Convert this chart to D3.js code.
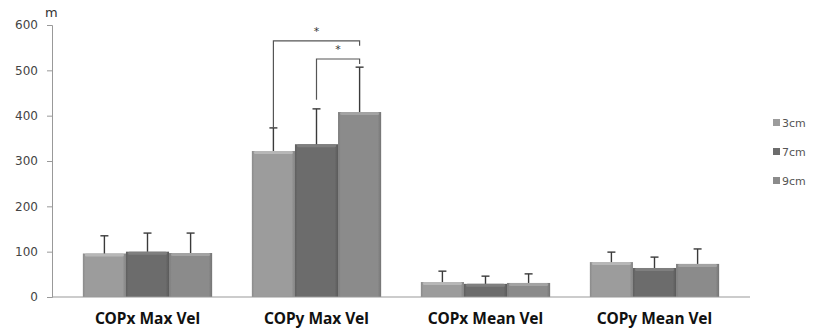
<!DOCTYPE html>
<html>
<head>
<meta charset="utf-8">
<script src="https://cdn.jsdelivr.net/npm/d3@7"></script>
<style>
  body { margin: 0; background: #fff; }
  svg { display: block; }
</style>
</head>
<body>
<div id="chart"></div>
<script>
const categories = ['COPx Max Vel', 'COPy Max Vel', 'COPx Mean Vel', 'COPy Mean Vel'];
const seriesNames = ['3cm', '7cm', '9cm'];
const mean3cm = [96, 322, 33, 77];
const mean7cm = [100, 337, 29, 64];
const mean9cm = [97, 408, 31, 73];
const sd3cm = [39, 51, 24, 22];
const sd7cm = [41, 78, 17, 24];
const sd9cm = [44, 99, 20, 33];
const yTicks = [0, 100, 200, 300, 400, 500, 600];
// significance brackets on COPy Max Vel
const brackets = [
  { cat: 'COPy Max Vel', from: 0, to: 2, level: 565, leftEnd: 373, label: '*' },
  { cat: 'COPy Max Vel', from: 1, to: 2, level: 525, leftEnd: 435, label: '*' },
];

const width = 814;
const height = 330;
const colors = ['#9c9c9c', '#6c6c6c', '#8b8b8b'];

const means = [mean3cm, mean7cm, mean9cm];
const sds = [sd3cm, sd7cm, sd9cm];

const svg = d3.select('#chart').append('svg')
  .attr('width', width)
  .attr('height', height);

// bevel-ish gradients
const defs = svg.append('defs');
colors.forEach((c, i) => {
  const g = defs.append('linearGradient')
    .attr('id', 'grad' + i)
    .attr('x1', '0').attr('x2', '1').attr('y1', '0').attr('y2', '0');
  g.append('stop').attr('offset', '0%').attr('stop-color', d3.color(c).darker(0.35));
  g.append('stop').attr('offset', '6%').attr('stop-color', c);
  g.append('stop').attr('offset', '92%').attr('stop-color', c);
  g.append('stop').attr('offset', '100%').attr('stop-color', d3.color(c).darker(0.5));
});

const y = d3.scaleLinear().domain([0, 600]).range([297, 25]);

const x0 = d3.scaleBand()
  .domain(categories)
  .range([63, 739])
  .paddingInner(0.235)
  .paddingOuter(0.1175);

const x1 = d3.scaleBand()
  .domain(seriesNames)
  .range([0, x0.bandwidth()]);

// Y axis
const yAxis = svg.append('g')
  .attr('transform', 'translate(52,0)')
  .call(d3.axisLeft(y).tickValues(yTicks).tickSize(5).tickPadding(9));
yAxis.select('.domain').attr('stroke', '#999');
yAxis.selectAll('.tick line').attr('stroke', '#999');
yAxis.selectAll('.tick text')
  .attr('fill', '#444')
  .style('font-family', 'DejaVu Sans')
  .style('font-size', '12px');

svg.append('text')
  .attr('x', 45)
  .attr('y', 17)
  .attr('fill', '#333')
  .style('font-family', 'DejaVu Sans')
  .style('font-size', '13px')
  .text('m');

// bars
const groups = svg.selectAll('.grp')
  .data(categories)
  .enter()
  .append('g')
  .attr('class', 'grp')
  .attr('transform', (d) => `translate(${x0(d)},0)`);

seriesNames.forEach((s, si) => {
  groups.append('rect')
    .attr('x', (d) => x1(s))
    .attr('y', (d, ci) => y(means[si][ci]))
    .attr('width', x1.bandwidth())
    .attr('height', (d, ci) => y(0) - y(means[si][ci]))
    .attr('fill', `url(#grad${si})`);
  // top highlight
  groups.append('rect')
    .attr('x', (d) => x1(s) + 2)
    .attr('y', (d, ci) => y(means[si][ci]))
    .attr('width', x1.bandwidth() - 4)
    .attr('height', 3)
    .attr('rx', 1.5)
    .attr('fill', d3.color(colors[si]).brighter(0.45));
  // error bars
  groups.append('line')
    .attr('x1', (d) => x1(s) + x1.bandwidth() / 2)
    .attr('x2', (d) => x1(s) + x1.bandwidth() / 2)
    .attr('y1', (d, ci) => y(means[si][ci]))
    .attr('y2', (d, ci) => y(means[si][ci] + sds[si][ci]))
    .attr('stroke', '#3a3a3a')
    .attr('stroke-width', 1.4);
  groups.append('line')
    .attr('x1', (d) => x1(s) + x1.bandwidth() / 2 - 4)
    .attr('x2', (d) => x1(s) + x1.bandwidth() / 2 + 4)
    .attr('y1', (d, ci) => y(means[si][ci] + sds[si][ci]))
    .attr('y2', (d, ci) => y(means[si][ci] + sds[si][ci]))
    .attr('stroke', '#3a3a3a')
    .attr('stroke-width', 1.4);
});

// baseline
svg.append('line')
  .attr('x1', 52).attr('x2', 750)
  .attr('y1', y(0)).attr('y2', y(0))
  .attr('stroke', '#999');

// category labels
svg.selectAll('.cat')
  .data(categories)
  .enter()
  .append('text')
  .attr('x', (d) => x0(d) + x0.bandwidth() / 2)
  .attr('y', 324)
  .attr('text-anchor', 'middle')
  .attr('fill', '#111')
  .style('font-family', 'Noto Sans')
  .style('font-weight', 'bold')
  .style('font-size', '15.5px')
  .text((d) => d);

// significance brackets
brackets.forEach((b) => {
  const xa = x0(b.cat) + x1(seriesNames[b.from]) + x1.bandwidth() / 2;
  const xb = x0(b.cat) + x1(seriesNames[b.to]) + x1.bandwidth() / 2;
  svg.append('path')
    .attr('d', `M${xa},${y(b.leftEnd)}V${y(b.level)}H${xb}V${y(b.level) + 5}`)
    .attr('fill', 'none')
    .attr('stroke', '#555')
    .attr('stroke-width', 1.2);
  svg.append('text')
    .attr('x', (xa + xb) / 2)
    .attr('y', y(b.level) - 6)
    .attr('text-anchor', 'middle')
    .attr('fill', '#333')
    .style('font-family', 'DejaVu Sans')
    .style('font-size', '11px')
    .text(b.label);
});

// legend
const legend = svg.selectAll('.legend')
  .data(seriesNames)
  .enter()
  .append('g')
  .attr('class', 'legend')
  .attr('transform', (d, i) => `translate(773, ${119 + i * 29})`);

legend.append('rect')
  .attr('width', 7)
  .attr('height', 7)
  .attr('fill', (d, i) => colors[i]);

legend.append('text')
  .attr('x', 9)
  .attr('y', 8)
  .attr('fill', '#555')
  .style('font-family', 'DejaVu Sans')
  .style('font-size', '11px')
  .text((d) => d);
</script>
</body>
</html>
